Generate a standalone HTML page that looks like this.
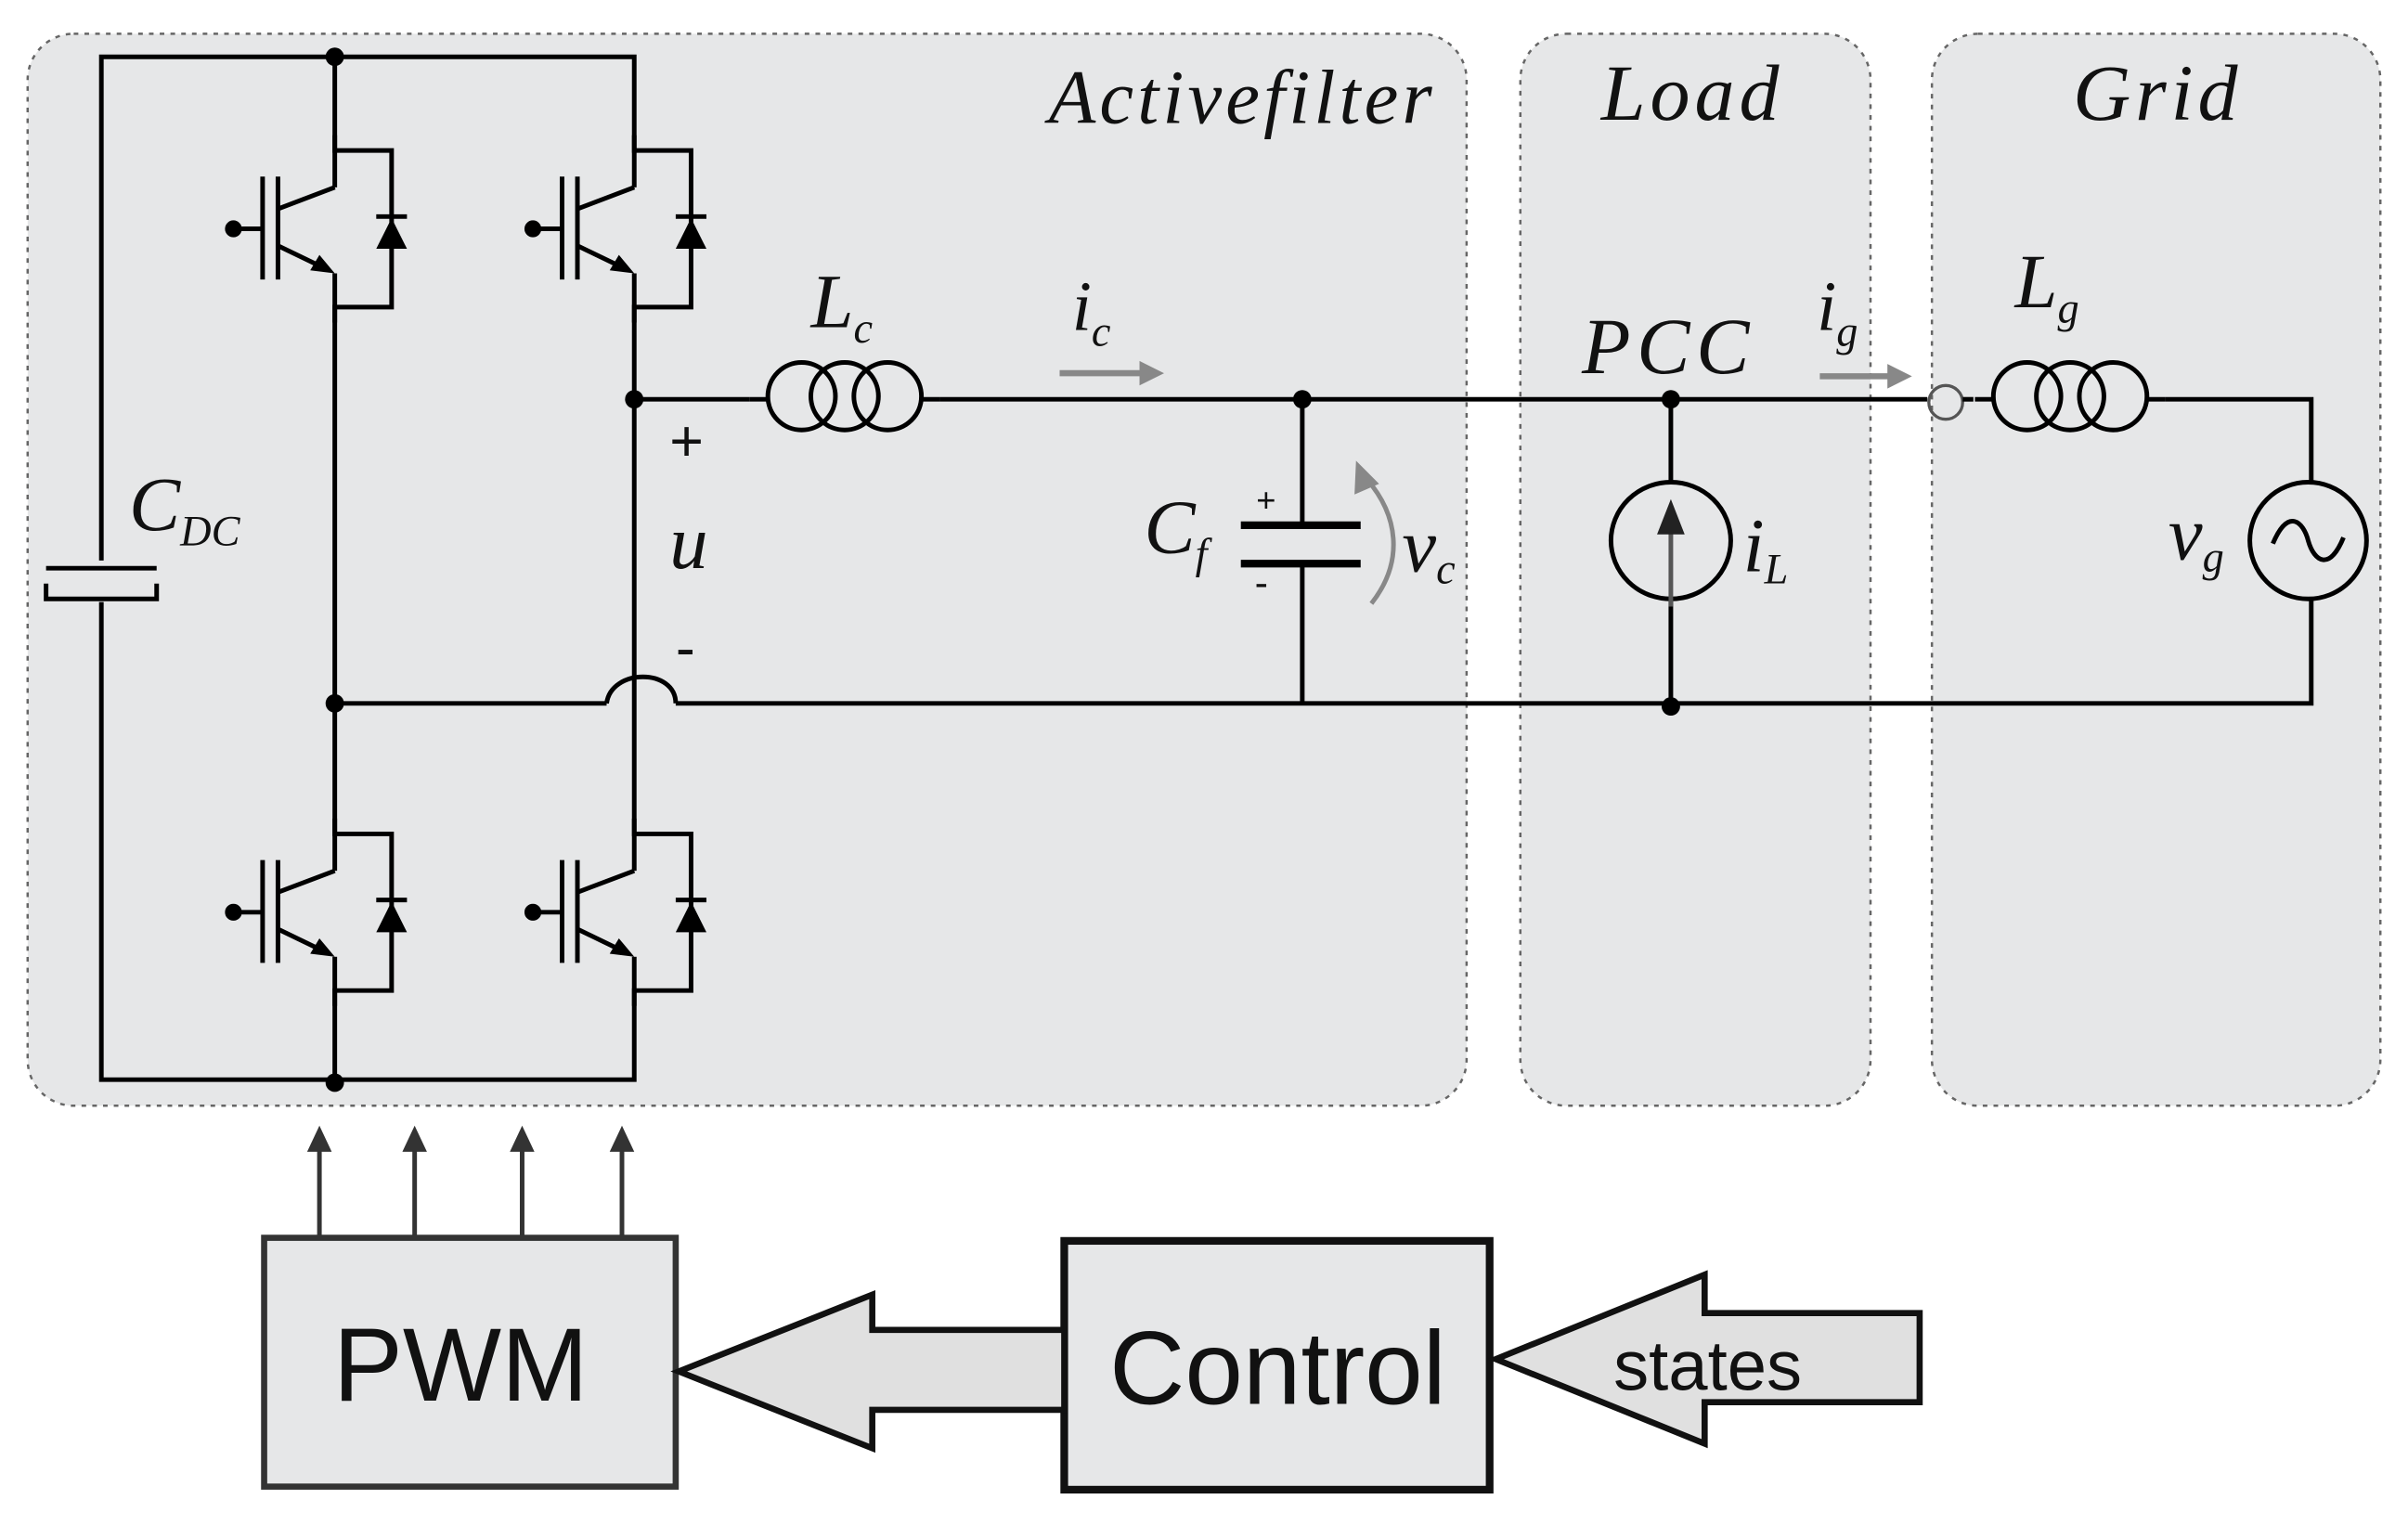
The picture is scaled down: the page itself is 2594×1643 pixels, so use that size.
<!DOCTYPE html>
<html><head><meta charset="utf-8"><style>
html,body{margin:0;padding:0;background:#fff;}
svg{display:block;}
.t{font-family:"Liberation Serif",serif;font-style:italic;fill:#111;}
.s{font-family:"Liberation Sans",sans-serif;fill:#111;}
</style></head><body>
<svg width="2594" height="1643" viewBox="0 0 1568 993" preserveAspectRatio="none" xmlns="http://www.w3.org/2000/svg">
<defs>
<g id="igbt" stroke="#000" stroke-width="3" fill="none">
  <polyline points="0,-10 0,0 37,0 37,102 0,102 0,112"/>
  <line x1="0" y1="0" x2="0" y2="24"/>
  <line x1="0" y1="80" x2="0" y2="102"/>
  <line x1="-37" y1="38" x2="0" y2="24"/>
  <line x1="-37" y1="62" x2="-8" y2="76"/>
  <polygon points="0,80 -16,78 -10,68" fill="#000" stroke="none"/>
  <line x1="-37" y1="17" x2="-37" y2="84"/>
  <line x1="-47" y1="17" x2="-47" y2="84"/>
  <line x1="-62" y1="51" x2="-47" y2="51"/>
  <circle cx="-66" cy="51" r="4" fill="#000"/>
  <polygon points="27,64 47,64 37,44" fill="#000" stroke="none"/>
  <line x1="27" y1="43" x2="47" y2="43"/>
</g>
<g id="coil" stroke="#000" stroke-width="3" fill="none">
  <line x1="0" y1="0" x2="12" y2="0"/>
  <circle cx="34" cy="-2" r="22"/>
  <circle cx="62" cy="-2" r="22"/>
  <circle cx="90" cy="-2" r="22"/>
  <line x1="112" y1="0" x2="124" y2="0"/>
</g>
</defs>
<rect width="1568" height="993" fill="#fff"/>
<g fill="#e6e7e8" stroke="#666" stroke-width="1.5" stroke-dasharray="3,4">
<rect x="18" y="22" width="937" height="698" rx="30"/>
<rect x="990" y="22" width="228" height="698" rx="30"/>
<rect x="1258" y="22" width="292" height="698" rx="30"/>
</g>
<text class="t" x="935" y="80" font-size="50" letter-spacing="2.5" text-anchor="end">Activefilter</text>
<text class="t" x="1102" y="78" font-size="52" letter-spacing="3" text-anchor="middle">Load</text>
<text class="t" x="1405" y="78" font-size="52" letter-spacing="3" text-anchor="middle">Grid</text>
<g stroke="#000" stroke-width="3" fill="none">
<polyline points="66,365 66,37 413,37 413,98"/>
<polyline points="66,392 66,703 413,703 413,645"/>
<line x1="30" y1="370" x2="102" y2="370"/>
<polyline points="30,380 30,390 102,390 102,380"/>
<line x1="218" y1="37" x2="218" y2="98"/>
<line x1="218" y1="200" x2="218" y2="543"/>
<line x1="218" y1="645" x2="218" y2="703"/>
<line x1="413" y1="200" x2="413" y2="543"/>
<polyline points="413,260 488,260"/>
<line x1="612" y1="260" x2="1255" y2="260"/>
<circle cx="1267" cy="262" r="11" stroke="#555" stroke-width="2"/>
<line x1="1278" y1="260" x2="1285" y2="260"/>
<polyline points="1410,260 1505,260 1505,314"/>
<polyline points="1505,390 1505,458 440,458"/>
<path d="M440,458 C440,435 398,435 395,458"/>
<line x1="395" y1="458" x2="218" y2="458"/>
<polyline points="848,260 848,340"/>
<polyline points="848,367 848,458"/>
<line x1="808" y1="342" x2="886" y2="342" stroke-width="5"/>
<line x1="808" y1="367" x2="886" y2="367" stroke-width="5"/>
<line x1="1088" y1="260" x2="1088" y2="314"/>
<line x1="1088" y1="390" x2="1088" y2="458"/>
<ellipse cx="1088" cy="352" rx="39" ry="38"/>
<circle cx="1503" cy="352" r="38"/>
<path d="M1480,354 C1490,330 1500,340 1503,352 C1507,366 1517,372 1526,350"/>
</g>
<use href="#coil" x="488" y="260"/>
<use href="#coil" x="1286" y="260"/>
<g stroke="#555" stroke-width="3"><line x1="1088" y1="395" x2="1088" y2="340"/></g>
<polygon points="1088,325 1079,348 1097,348" fill="#222"/>
<use href="#igbt" x="218" y="98"/>
<use href="#igbt" x="413" y="98"/>
<use href="#igbt" x="218" y="543"/>
<use href="#igbt" x="413" y="543"/>
<g fill="#000">
<circle cx="218" cy="37" r="6"/><circle cx="413" cy="260" r="6"/><circle cx="218" cy="458" r="6"/>
<circle cx="218" cy="705" r="6"/><circle cx="848" cy="260" r="6"/><circle cx="1088" cy="260" r="6"/><circle cx="1088" cy="460" r="6"/>
</g>
<g stroke="#888" stroke-width="4" fill="#888">
<line x1="690" y1="243" x2="745" y2="243"/><polygon points="758,243 742,235 742,251" stroke="none"/>
<line x1="1185" y1="245" x2="1232" y2="245"/><polygon points="1245,245 1229,237 1229,253" stroke="none"/>
<path d="M893,393 C915,365 910,335 890,312" fill="none" stroke-width="3"/>
<polygon points="883,300 882,322 898,315" stroke="none"/>
</g>
<text class="t" x="528" y="213" font-size="50">L<tspan font-size="28" dy="10">c</tspan></text>
<text class="t" x="698" y="215" font-size="46">i<tspan font-size="28" dy="10">c</tspan></text>
<text class="t" x="1030" y="243" font-size="52" letter-spacing="4">PCC</text>
<text class="t" x="1183" y="215" font-size="46">i<tspan font-size="28" dy="10">g</tspan></text>
<text class="t" x="1312" y="200" font-size="50">L<tspan font-size="28" dy="10">g</tspan></text>
<text class="t" x="84" y="345" font-size="50">C<tspan font-size="28" dy="10">DC</tspan></text>
<text class="s" x="436" y="300" font-size="38">+</text>
<text class="t" x="436" y="370" font-size="50">u</text>
<text class="s" x="440" y="435" font-size="38">-</text>
<text class="t" x="745" y="360" font-size="50">C<tspan font-size="28" dy="10">f</tspan></text>
<text class="s" x="818" y="333" font-size="22">+</text>
<text class="s" x="817" y="388" font-size="26">-</text>
<text class="t" x="913" y="372" font-size="50">v<tspan font-size="28" dy="8">c</tspan></text>
<text class="t" x="1135" y="372" font-size="50">i<tspan font-size="28" dy="8">L</tspan></text>
<text class="t" x="1412" y="364" font-size="50">v<tspan font-size="28" dy="8">g</tspan></text>
<g stroke="#333" stroke-width="3">
<line x1="208" y1="805" x2="208" y2="745"/><line x1="270" y1="805" x2="270" y2="745"/>
<line x1="340" y1="805" x2="340" y2="745"/><line x1="405" y1="805" x2="405" y2="745"/>
</g>
<g fill="#333">
<polygon points="208,733 200,750 216,750"/><polygon points="270,733 262,750 278,750"/>
<polygon points="340,733 332,750 348,750"/><polygon points="405,733 397,750 413,750"/>
</g>
<rect x="172" y="806" width="268" height="162" fill="#e6e7e8" stroke="#333" stroke-width="4"/>
<rect x="693" y="808" width="277" height="162" fill="#e6e7e8" stroke="#111" stroke-width="5"/>
<polygon points="442,893 568,843 568,866 693,866 693,918 568,918 568,943" fill="#e0e0e0" stroke="#111" stroke-width="4"/>
<polygon points="974,885 1110,830 1110,855 1250,855 1250,913 1110,913 1110,940" fill="#e0e0e0" stroke="#111" stroke-width="4"/>
<text class="s" x="300" y="912" font-size="68" text-anchor="middle">PWM</text>
<text class="s" x="832" y="914" font-size="68" text-anchor="middle">Control</text>
<text class="s" x="1112" y="905" font-size="46" text-anchor="middle">states</text>
</svg>
</body></html>
